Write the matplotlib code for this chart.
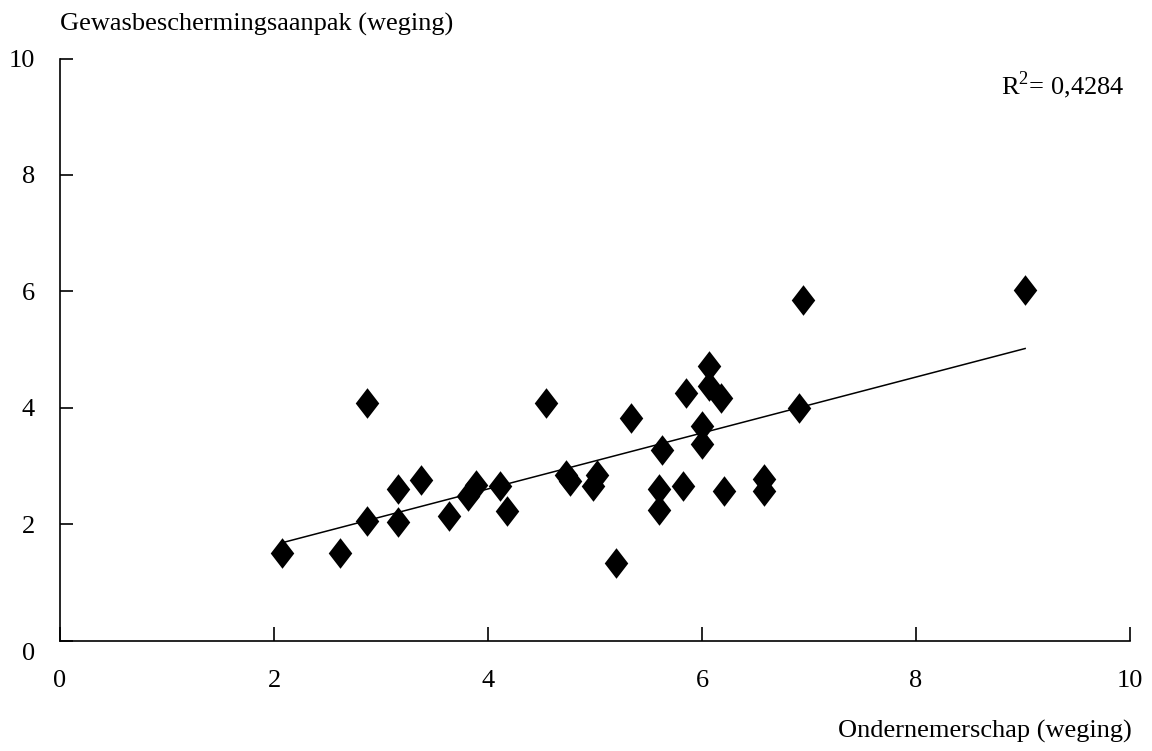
import numpy as np
import matplotlib.pyplot as plt
from matplotlib.path import Path
from matplotlib.transforms import ScaledTranslation

# -------------------------------
# Data
# -------------------------------
ondernemerschap = [2.07, 2.62, 2.87, 2.87, 3.16, 3.16, 3.37, 3.64, 3.81, 3.89,
                   4.11, 4.18, 4.54, 4.73, 4.77, 4.98, 5.02, 5.20, 5.34, 5.60,
                   5.60, 5.63, 5.82, 5.85, 6.00, 6.00, 6.07, 6.07, 6.18, 6.21,
                   6.58, 6.58, 6.91, 6.94, 9.02]
gewasbescherming = [1.51, 1.51, 2.05, 4.09, 2.03, 2.60, 2.76, 2.14, 2.48, 2.68,
                    2.66, 2.23, 4.09, 2.85, 2.74, 2.66, 2.85, 1.33, 3.82, 2.25,
                    2.60, 3.28, 2.66, 4.26, 3.37, 3.69, 4.72, 4.37, 4.17, 2.57,
                    2.57, 2.77, 3.99, 5.86, 6.03]
r2_label = "0,4284"

x_ticks = [0, 2, 4, 6, 8, 10]
y_ticks = [0, 2, 4, 6, 8, 10]

plt.rcParams['font.family'] = ['Liberation Serif', 'DejaVu Serif']
plt.rcParams['mathtext.fontset'] = 'custom'
plt.rcParams['mathtext.rm'] = 'Liberation Serif'
FS = 19

# tall diamond marker like in the original
diamond = Path([(0, 1), (0.77, 0), (0, -1), (-0.77, 0), (0, 1)],
               [Path.MOVETO, Path.LINETO, Path.LINETO, Path.LINETO, Path.CLOSEPOLY])

fig = plt.figure(figsize=(11.52, 7.51), dpi=100)
ax = fig.add_axes([0.0521, 0.1469, 0.9288, 0.7752])

x = np.array(ondernemerschap)
y = np.array(gewasbescherming)
ax.plot(x, y, linestyle='none', marker=diamond, markersize=22,
        color='black', markeredgewidth=0, zorder=3)

# linear trend line
slope, intercept = np.polyfit(x, y, 1)
xl = np.array([x.min(), x.max()])
ax.plot(xl, slope * xl + intercept, color='black', linewidth=1.1, zorder=2)

ax.set_xlim(0, 10)
ax.set_ylim(0, 10)
ax.set_xticks(x_ticks)
ax.set_yticks(y_ticks)
ax.spines['top'].set_visible(False)
ax.spines['right'].set_visible(False)
for s in ['left', 'bottom']:
    ax.spines[s].set_linewidth(1.2)
ax.tick_params(axis='x', direction='in', length=10, width=1.2, pad=21, labelsize=FS)
ax.tick_params(axis='y', direction='in', length=9, width=1.2, pad=18, labelsize=FS)

# the "0" on the y axis sits a bit lower in the original
lab0 = ax.yaxis.get_major_ticks()[0].label1
lab0.set_transform(lab0.get_transform() + ScaledTranslation(0, -0.11, fig.dpi_scale_trans))

fig.text(0.052, 0.968, "Gewasbeschermingsaanpak (weging)", fontsize=FS,
         ha='left', va='center')
fig.text(0.982, 0.026, "Ondernemerschap (weging)", fontsize=FS,
         ha='right', va='center')
ax.text(0.995, 0.955, r"R$^{\mathregular{2}}$= " + r2_label, transform=ax.transAxes,
        fontsize=FS, ha='right', va='center')

fig.savefig("out.png", dpi=100)
